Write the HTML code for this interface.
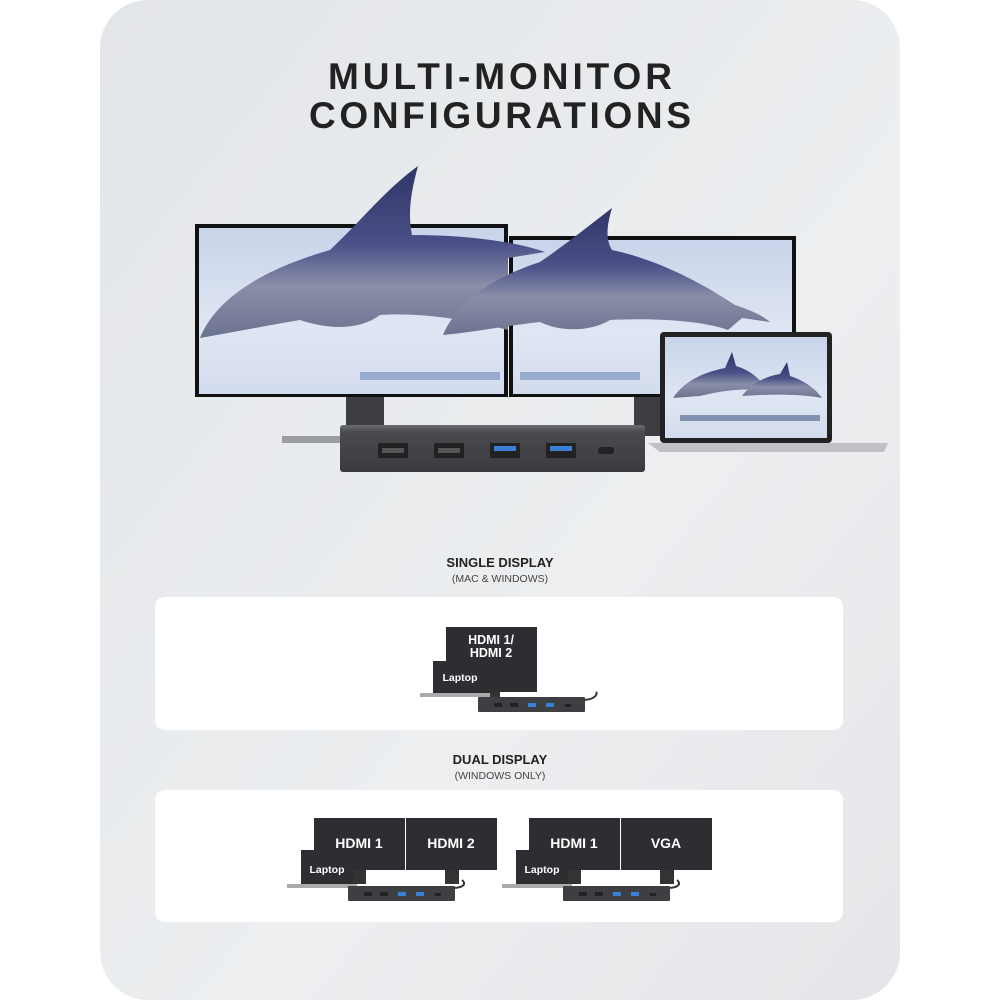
<!DOCTYPE html>
<html><head><meta charset="utf-8"><style>
html,body{margin:0;padding:0;background:#fff;width:1000px;height:1000px;overflow:hidden}
svg{display:block}
text{font-family:"Liberation Sans",Arial,sans-serif}
</style></head><body>
<svg width="1000" height="1000" viewBox="0 0 1000 1000" xmlns="http://www.w3.org/2000/svg">
<defs>
<linearGradient id="bg" x1="0" y1="0" x2="1" y2="1">
<stop offset="0" stop-color="#e3e6e9"/><stop offset="0.6" stop-color="#eceef0"/><stop offset="1" stop-color="#e4e6e9"/>
</linearGradient>
<linearGradient id="scr" x1="0" y1="0" x2="0" y2="1">
<stop offset="0" stop-color="#c9d4ea"/><stop offset="0.6" stop-color="#dfe6f3"/><stop offset="1" stop-color="#d3dcee"/>
</linearGradient>
<linearGradient id="dol" x1="0" y1="0" x2="0" y2="1">
<stop offset="0" stop-color="#2f3565"/><stop offset="0.45" stop-color="#4a5088"/><stop offset="0.7" stop-color="#8a8fa8"/><stop offset="1" stop-color="#6c7390"/>
</linearGradient>
<linearGradient id="dock" x1="0" y1="0" x2="0" y2="1">
<stop offset="0" stop-color="#6c6d72"/><stop offset="0.15" stop-color="#4a4b50"/><stop offset="1" stop-color="#3a3b3f"/>
</linearGradient>
</defs>
<rect x="100" y="0" width="800" height="1000" rx="48" fill="url(#bg)"/>
<text x="500" y="89" text-anchor="middle" font-size="37" font-weight="bold" fill="#222" textLength="344" lengthAdjust="spacing">MULTI-MONITOR</text>
<text x="500" y="128" text-anchor="middle" font-size="37" font-weight="bold" fill="#222" textLength="382" lengthAdjust="spacing">CONFIGURATIONS</text>

<rect x="282" y="436" width="70" height="7" fill="#9a9ca0"/>
<rect x="346" y="396" width="38" height="34" fill="#3d3e42"/>
<rect x="634" y="396" width="28" height="40" fill="#3d3e42"/>
<rect x="195" y="224" width="313" height="173" fill="#111"/>
<rect x="199" y="228" width="305" height="166" fill="url(#scr)"/>
<rect x="509" y="236" width="287" height="161" fill="#111"/>
<rect x="513" y="240" width="279" height="154" fill="url(#scr)"/>
<rect x="360" y="372" width="140" height="8" fill="#6d8ab8" opacity="0.6"/>
<rect x="520" y="372" width="120" height="8" fill="#6d8ab8" opacity="0.6"/>
<path d="M200 338 C215 300 260 270 330 250 C360 222 385 190 418 166 C410 195 408 215 412 235 C460 235 510 240 545 252 L508 258 L508 330 C470 320 420 312 380 315 C360 330 330 330 300 320 C270 325 235 332 200 338 Z" fill="url(#dol)"/>
<path d="M443 335 C455 305 490 278 540 262 C565 245 590 225 612 208 C606 228 606 240 612 250 C660 260 705 285 735 305 C750 310 762 315 770 322 L742 318 L728 330 C700 320 650 318 610 320 C590 332 560 332 540 322 C510 325 475 332 443 335 Z" fill="url(#dol)"/>
<rect x="660" y="332" width="172" height="111" rx="4" fill="#222"/>
<rect x="665" y="337" width="162" height="101" fill="url(#scr)"/>
<path d="M673 398 C685 380 705 372 725 368 L732 352 L736 366 C750 370 762 380 768 392 L757 390 C740 388 715 392 700 396 Z" fill="url(#dol)"/>
<path d="M742 396 C752 382 768 376 780 374 L787 362 L790 376 C803 380 815 388 822 398 C800 394 770 394 742 396 Z" fill="url(#dol)"/>
<rect x="680" y="415" width="140" height="6" fill="#4a5c85" opacity="0.6"/>
<path d="M648 443 L888 443 L884 452 L660 452 Z" fill="#bfc1c5"/>
<rect x="340" y="425" width="305" height="47" rx="3" fill="url(#dock)"/>
<rect x="378" y="443" width="30" height="15" fill="#222"/><rect x="382" y="448" width="22" height="5" fill="#555"/>
<rect x="434" y="443" width="30" height="15" fill="#222"/><rect x="438" y="448" width="22" height="5" fill="#555"/>
<rect x="490" y="443" width="30" height="15" fill="#222"/><rect x="494" y="446" width="22" height="5" fill="#3c7fd6"/>
<rect x="546" y="443" width="30" height="15" fill="#222"/><rect x="550" y="446" width="22" height="5" fill="#3c7fd6"/>
<rect x="598" y="447" width="16" height="7" rx="3" fill="#222"/>

<text x="500" y="567" text-anchor="middle" font-size="13" font-weight="bold" fill="#222">SINGLE DISPLAY</text>
<text x="500" y="582" text-anchor="middle" font-size="10.5" fill="#444">(MAC &amp; WINDOWS)</text>
<rect x="155" y="597" width="688" height="133" rx="10" fill="#fff"/>
<rect x="484" y="690" width="16" height="10" fill="#333"/>
<rect x="446" y="627" width="91" height="65" fill="#2d2e32"/>
<text x="491" y="644" text-anchor="middle" font-size="12.5" font-weight="bold" fill="#fff">HDMI 1/</text>
<text x="491" y="657" text-anchor="middle" font-size="12.5" font-weight="bold" fill="#fff">HDMI 2</text>
<rect x="433" y="661" width="54" height="32" fill="#2d2e32"/>
<text x="460" y="681" text-anchor="middle" font-size="10.5" font-weight="bold" fill="#fff">Laptop</text>
<rect x="420" y="693" width="70" height="4" fill="#aaa"/>
<path d="M582 700 C595 700 598 694 596 692" stroke="#333" stroke-width="2" fill="none"/>
<rect x="478" y="697" width="107" height="15" rx="1" fill="#3e3f43"/>
<rect x="494" y="703" width="8" height="4" fill="#222"/><rect x="510" y="703" width="8" height="4" fill="#222"/>
<rect x="528" y="703" width="8" height="4" fill="#3c7fd6"/><rect x="546" y="703" width="8" height="4" fill="#3c7fd6"/>
<rect x="565" y="704" width="6" height="3" fill="#222"/>

<text x="500" y="764" text-anchor="middle" font-size="13" font-weight="bold" fill="#222">DUAL DISPLAY</text>
<text x="500" y="779" text-anchor="middle" font-size="10.5" fill="#444">(WINDOWS ONLY)</text>
<rect x="155" y="790" width="688" height="132" rx="10" fill="#fff"/>

<g id="g1">
<rect x="352" y="868" width="14" height="16" fill="#333"/><rect x="445" y="868" width="14" height="16" fill="#333"/>
<rect x="314" y="818" width="91" height="52" fill="#2d2e32"/>
<rect x="406" y="818" width="91" height="52" fill="#2d2e32"/>
<rect x="301" y="850" width="52" height="34" fill="#2d2e32"/>
<rect x="287" y="884" width="70" height="4" fill="#aaa"/>
<path d="M452 888 C465 888 466 883 462 880" stroke="#333" stroke-width="2" fill="none"/>
<rect x="348" y="886" width="107" height="15" rx="1" fill="#3e3f43"/>
<rect x="364" y="892" width="8" height="4" fill="#222"/><rect x="380" y="892" width="8" height="4" fill="#222"/>
<rect x="398" y="892" width="8" height="4" fill="#3c7fd6"/><rect x="416" y="892" width="8" height="4" fill="#3c7fd6"/>
<rect x="435" y="893" width="6" height="3" fill="#222"/>
</g>
<use href="#g1" x="215" y="0"/>
<text x="359" y="848" text-anchor="middle" font-size="14" font-weight="bold" fill="#fff">HDMI 1</text>
<text x="451" y="848" text-anchor="middle" font-size="14" font-weight="bold" fill="#fff">HDMI 2</text>
<text x="327" y="873" text-anchor="middle" font-size="10.5" font-weight="bold" fill="#fff">Laptop</text>
<text x="574" y="848" text-anchor="middle" font-size="14" font-weight="bold" fill="#fff">HDMI 1</text>
<text x="666" y="848" text-anchor="middle" font-size="14" font-weight="bold" fill="#fff">VGA</text>
<text x="542" y="873" text-anchor="middle" font-size="10.5" font-weight="bold" fill="#fff">Laptop</text>
</svg>
</body></html>
